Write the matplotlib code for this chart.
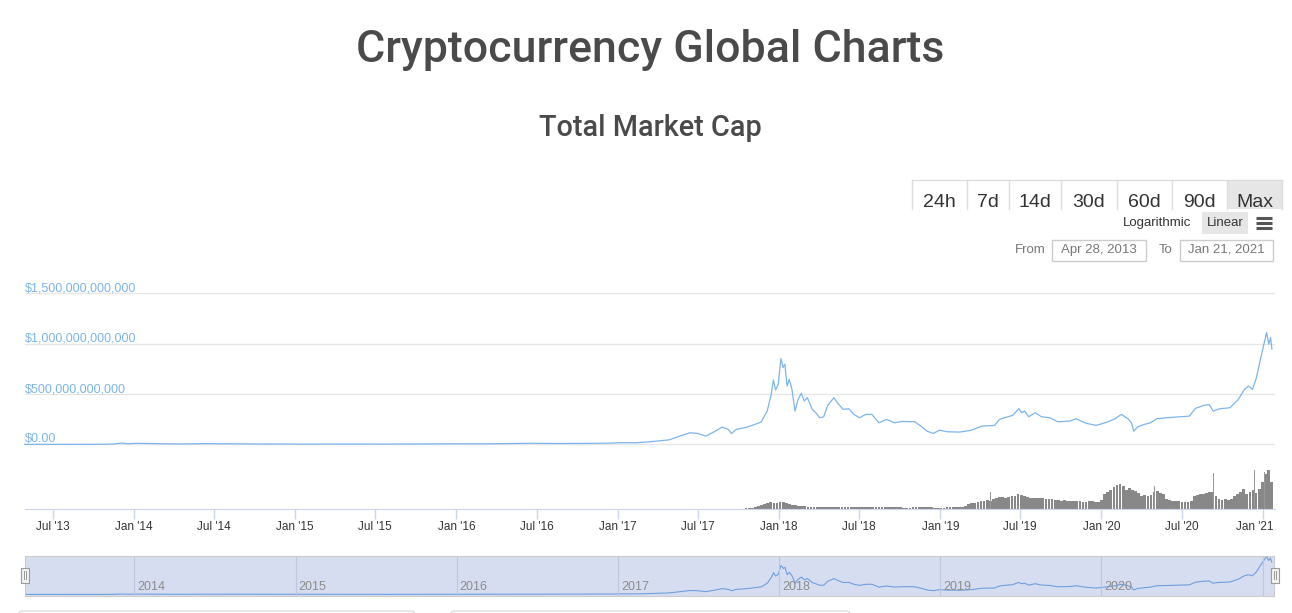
import numpy as np
import pandas as pd
import matplotlib
matplotlib.use("Agg")
import matplotlib.pyplot as plt
import matplotlib.dates as mdates
from matplotlib.patches import Rectangle, FancyBboxPatch

W, H = 1292, 613
plt.rcParams['font.family'] = ['Liberation Sans', 'DejaVu Sans']

# --- total market cap, billions USD ---
mcap_dates = [
    "2013-04-28", "2013-06-15", "2013-08-15", "2013-10-15", "2013-11-15", "2013-12-04",
    "2013-12-18", "2014-01-06", "2014-02-10", "2014-03-15", "2014-04-10", "2014-06-05",
    "2014-08-01", "2014-10-05", "2014-12-01", "2015-01-15", "2015-03-10", "2015-06-01",
    "2015-08-01", "2015-11-05", "2016-01-01", "2016-03-15", "2016-06-17", "2016-08-05",
    "2016-10-15", "2016-12-15", "2017-01-05", "2017-02-10", "2017-03-12", "2017-04-27",
    "2017-05-25", "2017-06-13", "2017-07-01", "2017-07-19", "2017-08-07", "2017-08-25",
    "2017-09-08", "2017-09-15", "2017-09-26", "2017-10-20", "2017-11-07", "2017-11-21",
    "2017-12-05", "2017-12-14", "2017-12-19", "2017-12-24", "2017-12-30", "2018-01-05",
    "2018-01-10", "2018-01-14", "2018-01-19", "2018-01-24", "2018-01-30", "2018-02-06",
    "2018-02-13", "2018-02-20", "2018-02-27", "2018-03-06", "2018-03-17", "2018-03-25",
    "2018-04-03", "2018-04-12", "2018-04-21", "2018-05-05", "2018-05-14", "2018-05-26",
    "2018-06-08", "2018-06-19", "2018-07-02", "2018-07-16", "2018-07-30", "2018-08-15",
    "2018-09-01", "2018-09-19", "2018-10-07", "2018-11-04", "2018-11-18", "2018-12-02",
    "2018-12-16", "2018-12-30", "2019-01-17", "2019-02-14", "2019-03-13", "2019-04-05",
    "2019-05-04", "2019-05-15", "2019-05-26", "2019-06-14", "2019-06-28", "2019-07-04",
    "2019-07-11", "2019-07-20", "2019-08-04", "2019-08-18", "2019-09-06", "2019-09-24",
    "2019-10-22", "2019-11-04", "2019-11-28", "2019-12-20", "2020-01-14", "2020-02-01",
    "2020-02-15", "2020-03-01", "2020-03-09", "2020-03-14", "2020-03-23", "2020-04-07",
    "2020-04-21", "2020-05-05", "2020-05-28", "2020-06-20", "2020-07-18", "2020-08-01",
    "2020-08-19", "2020-09-01", "2020-09-10", "2020-09-25", "2020-10-18", "2020-11-06",
    "2020-11-20", "2020-11-29", "2020-12-08", "2020-12-17", "2020-12-26", "2021-01-02",
    "2021-01-09", "2021-01-14", "2021-01-18", "2021-01-21",
]
mcap_values = [
    1.6, 1.2, 1.3, 1.8, 5.0, 14.0,
    8.0, 12.0, 9.5, 8.0, 5.5, 8.5,
    7.5, 4.8, 5.2, 3.0, 4.0, 3.5,
    4.2, 6.5, 7.0, 7.0, 12.0, 10.0,
    10.5, 13.5, 18.0, 17.0, 26, 46,
    89, 116, 109, 83, 126, 172,
    149, 109, 149, 172, 199, 222,
    331, 497, 639, 540, 596, 851,
    762, 795, 579, 646, 546, 331,
    447, 507, 430, 464, 348, 315,
    265, 275, 387, 464, 407, 348,
    354, 298, 265, 298, 298, 215,
    248, 215, 228, 225, 182, 132,
    109, 142, 126, 123, 142, 182,
    189, 248, 265, 288, 354, 315,
    331, 275, 315, 275, 265, 225,
    232, 255, 209, 189, 222, 255,
    298, 255, 215, 132, 175, 199,
    215, 255, 265, 272, 281, 358,
    387, 394, 331, 354, 364, 447,
    546, 579, 546, 662, 844, 977,
    1109, 993, 1060, 944,
]

# --- 24h volume, billions USD ---
vol_month_start = "2013-05-01"
vol_monthly = [  # May 2013 .. Dec 2016
    0.02, 0.02, 0.02, 0.02, 0.03, 0.05, 0.2, 0.3,
    0.15, 0.12, 0.1, 0.08, 0.06, 0.05, 0.05, 0.04, 0.05, 0.04, 0.04, 0.04,
    0.05, 0.06, 0.05, 0.04, 0.04, 0.05, 0.04, 0.05, 0.04, 0.06, 0.08, 0.07,
    0.1, 0.1, 0.12, 0.1, 0.09, 0.15, 0.1, 0.09, 0.08, 0.1, 0.2, 0.3,
]
vol_week_start = "2017-01-01"
vol_weekly = [
    # 2017
    0.5, 0.5, 0.5, 0.4, 0.4, 0.4, 0.5, 0.5, 0.6, 0.8, 0.8, 0.7, 0.8, 0.8, 0.9, 1, 1,
    1.5, 2, 2, 2, 2.5, 2.5, 3, 2.5, 2, 2, 2.5, 2, 2, 2.5, 3, 3, 3, 3, 3, 2.5, 2.5, 3, 3, 3.5, 4, 5,
    8, 12, 20, 28, 40, 48, 52, 45, 42,
    # 2018
    50, 55, 45, 40, 30, 28, 22, 20, 20, 18, 17, 16, 15, 15, 16, 17, 18, 18, 17, 16, 15,
    14, 13, 13, 12, 12, 14, 16, 18, 17, 16, 15, 15, 14, 14, 13, 14, 13, 12, 12, 11, 11, 11,
    12, 13, 15, 14, 13, 12, 12, 11, 11,
    # 2019
    11, 11, 12, 12, 12, 13, 14, 18, 25, 35, 42, 48, 52, 58, 62, 65, 62, 75, 82, 88, 90,
    85, 90, 95, 100, 110, 105, 100, 90, 85, 85, 80, 85, 80, 75, 78, 72, 70, 68, 62, 66, 62, 60,
    58, 62, 60, 56, 55, 58, 60, 56, 54,
    # 2020
    70, 110, 125, 140, 165, 180, 185, 170, 140, 155, 140, 135, 120, 100, 105, 100, 105,
    125, 135, 120, 110, 75, 70, 62, 60, 58, 50, 52, 55, 60, 100, 108, 110, 112, 120, 130,
    125, 95, 75, 70, 72, 68, 75, 95, 110, 130, 150, 110, 125, 140, 120, 150,
    # 2021
    200, 260, 290, 205,
]
spike_dates = ["2019-04-24", "2019-09-27", "2020-02-10", "2020-04-30", "2020-09-11",
               "2020-12-12", "2021-01-04", "2021-01-12"]
spike_values = [125, 187, 192, 175, 268, 293, 280, 318]

y_ticks = [0, 500e9, 1000e9, 1500e9]
y_labels = ["$0.00", "$500,000,000,000", "$1,000,000,000,000", "$1,500,000,000,000"]
ranges = ["24h", "7d", "14d", "30d", "60d", "90d", "Max"]
range_edges = [912, 967, 1009, 1061, 1117, 1172, 1227, 1282]
nav_years = [2014, 2015, 2016, 2017, 2018, 2019, 2020, 2021]

LINE = "#7cb5ec"
TXT = "#4a4a4a"

mcap_dates = pd.to_datetime(mcap_dates)
mcap = np.array(mcap_values) * 1e9
vol_m_dates = pd.date_range(vol_month_start, periods=len(vol_monthly), freq="MS")
vol_w_dates = pd.date_range(vol_week_start, periods=len(vol_weekly), freq="7D")

x_start = pd.Timestamp("2013-04-28")
x_end = pd.Timestamp("2021-01-28")

fig = plt.figure(figsize=(W / 100, H / 100), dpi=100)


def px_axes(x0, y0, x1, y1):
    return fig.add_axes([x0 / W, 1 - y1 / H, (x1 - x0) / W, (y1 - y0) / H])


# overlay in pixel coordinates for the page furniture
ui = px_axes(0, 0, W, H)
ui.set_xlim(0, W)
ui.set_ylim(H, 0)
ui.axis("off")

ui.text(650, 62, "Cryptocurrency Global Charts", ha="center", va="baseline",
        fontsize=32.2, color=TXT, family=["Roboto", "DejaVu Sans"], fontweight="medium")
ui.text(650, 136, "Total Market Cap", ha="center", va="baseline", fontsize=20.8, color=TXT,
        family=["Roboto", "DejaVu Sans"], fontweight="medium")

# range selector buttons
ui.add_patch(Rectangle((range_edges[-2], 180), range_edges[-1] - range_edges[-2], 29,
                       facecolor="#e6e6e6", edgecolor="none"))
ui.plot([range_edges[0], range_edges[-1]], [180, 180], color="#dddddd", lw=1)
for xe in range_edges:
    ui.plot([xe, xe], [180, 209], color="#dddddd", lw=1)
for i, lab in enumerate(ranges):
    ui.text((range_edges[i] + range_edges[i + 1]) / 2, 207, lab, ha="center",
            va="baseline", fontsize=14, color="#333333")

ui.text(1157, 223, "Logarithmic", ha="center", va="center", fontsize=9.5, color="#333333")
ui.add_patch(Rectangle((1202, 212), 46, 22, facecolor="#e6e6e6", edgecolor="none"))
ui.text(1225, 223, "Linear", ha="center", va="center", fontsize=9.5, color="#333333")
for yy in (218, 223, 228):
    ui.plot([1256, 1272], [yy, yy], color="#555555", lw=2.2, solid_capstyle="butt")

ui.text(1030, 250, "From", ha="center", va="center", fontsize=9.5, color="#777777")
ui.add_patch(Rectangle((1052, 240), 94, 21, facecolor="white", edgecolor="#cccccc", lw=1))
ui.text(1099, 250, "Apr 28, 2013", ha="center", va="center", fontsize=9.5, color="#777777")
ui.text(1166, 250, "To", ha="center", va="center", fontsize=9.5, color="#777777")
ui.add_patch(Rectangle((1180, 240), 93, 21, facecolor="white", edgecolor="#cccccc", lw=1))
ui.text(1226, 250, "Jan 21, 2021", ha="center", va="center", fontsize=9.5, color="#777777")

# cards peeking in at the bottom
for x0, x1 in [(17, 415), (449, 850)]:
    ui.add_patch(FancyBboxPatch((x0, 611), x1 - x0, 40, boxstyle="round,pad=0,rounding_size=4",
                                facecolor="none", edgecolor="#dddddd", lw=1))

# --- price pane ---
ax = px_axes(24.5, 290, 1275, 446)
ax.plot(mcap_dates, mcap, color=LINE, lw=0.9, clip_on=False)
ax.set_xlim(x_start, x_end)
ppx = 151.2 / 1.5e12
ax.set_ylim(-1.5 / ppx, 1.5e12 + 3 / ppx)
ax.set_yticks(y_ticks)
ax.yaxis.grid(True, color="#e6e6e6", lw=1)
ax.set_axisbelow(True)
ax.tick_params(left=False, labelleft=False, bottom=False, labelbottom=False)
ax.patch.set_alpha(0)
for s in ax.spines.values():
    s.set_visible(False)
for v, lab in zip(y_ticks, y_labels):
    ax.annotate(lab, xy=(0, v), xycoords=("axes fraction", "data"), xytext=(0, 2),
                textcoords="offset pixels", va="baseline", ha="left", fontsize=9,
                color=LINE)

# --- volume pane ---
av = px_axes(24.5, 450, 1275, 509)
av.bar(vol_m_dates, vol_monthly, width=28, align="edge", color="#888888", lw=0)
av.bar(vol_w_dates, vol_weekly, width=6.3, align="edge", color="#888888", lw=0)
av.bar(pd.to_datetime(spike_dates), spike_values, width=1.5, color="#999999", lw=0)
av.set_xlim(x_start, x_end)
av.set_ylim(0, 442.5)
av.patch.set_alpha(0)
for k in ("top", "left", "right"):
    av.spines[k].set_visible(False)
av.spines["bottom"].set_color("#ccd6eb")
av.tick_params(left=False, labelleft=False)
last_tick = mdates.date2num(pd.Timestamp("2021-01-01"))


def date_label(x, pos):
    # the last label is drawn separately, nudged left like the original
    if abs(x - last_tick) < 1:
        return ""
    return mdates.num2date(x).strftime("%b '%y")


av.xaxis.set_major_locator(mdates.MonthLocator(bymonth=[1, 7]))
av.xaxis.set_major_formatter(plt.FuncFormatter(date_label))
av.tick_params(axis="x", length=7, width=1, color="#ccd6eb", labelsize=8.5,
               labelcolor="#333333", pad=1.5)
av.annotate("Jan '21", xy=(last_tick, 0), xycoords=("data", "axes fraction"),
            xytext=(-8, -12), textcoords="offset pixels", ha="center", va="top",
            fontsize=8.5, color="#333333", annotation_clip=False)

# --- navigator ---
nv = px_axes(25, 555.5, 1274, 595.5)
nv.set_facecolor("#d7ddf0")
nv.plot(mcap_dates, mcap, color="#6d9fdf", lw=0.8)
nv.set_xlim(x_start, pd.Timestamp("2021-01-26"))
nv.set_ylim(-30e9, 1140e9)
nv.set_xticks([])
nv.set_yticks([])
for s in nv.spines.values():
    s.set_color("#cccccc")
for yr in nav_years:
    d = pd.Timestamp(f"{yr}-01-01")
    nv.axvline(d, color="#bfc5da", lw=0.8)
    if yr < 2021:
        nv.annotate(str(yr), xy=(d, 0), xycoords=("data", "axes fraction"), xytext=(3, 5.5),
                    textcoords="offset pixels", va="baseline", ha="left", fontsize=9,
                    color="#8c8c8c")

for hx in (25, 1275):
    ui.add_patch(Rectangle((hx - 4, 567.5), 8, 15, facecolor="#f2f2f2", edgecolor="#999999",
                           lw=0.8, zorder=5))
    for dx in (-1.3, 1.3):
        ui.plot([hx + dx, hx + dx], [571, 579], color="#999999", lw=0.7, zorder=6)
ui.set_zorder(3)
ui.patch.set_alpha(0)

fig.savefig("out.png", dpi=100)
